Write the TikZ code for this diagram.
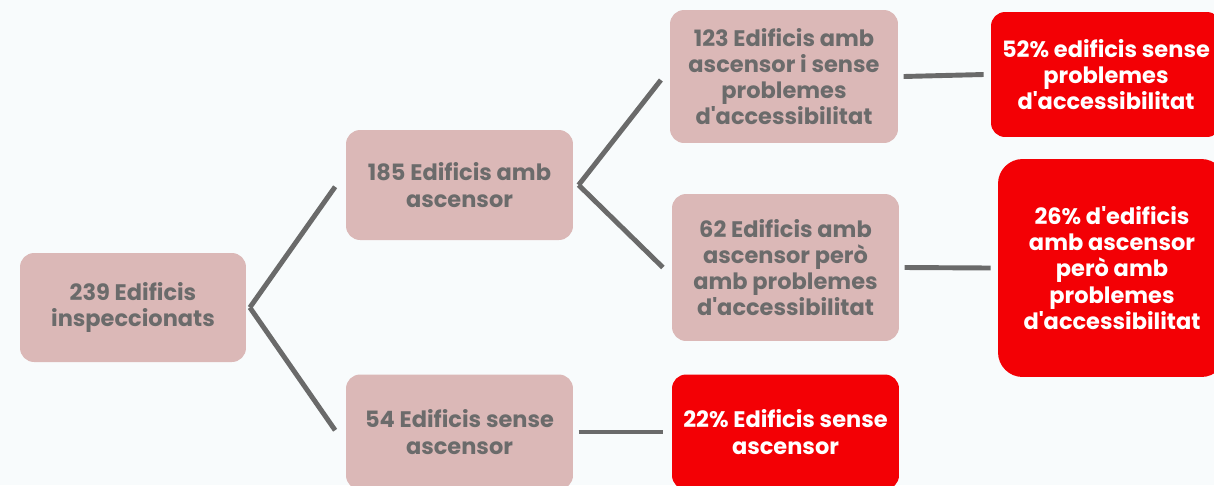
\documentclass[tikz,border=0pt]{standalone}
\usepackage{fontspec}
\setmainfont{Poppins}[Ligatures=TeXOff]
\definecolor{boxpink}{HTML}{DBB8B7}
\definecolor{txtgray}{HTML}{6B6B6B}
\definecolor{hotred}{HTML}{F30005}
\definecolor{linegray}{HTML}{6A6A6A}
\definecolor{bgwhite}{HTML}{F8FBFC}

\tikzset{
  step box/.style={fill=boxpink, rounded corners=8pt, text=txtgray, align=center,
    font=\fontsize{12.8}{14.9}\selectfont\bfseries, inner sep=2pt},
  result box/.style={fill=hotred, rounded corners=8pt, text=white, align=center,
    font=\fontsize{12.8}{14.9}\selectfont\bfseries, inner sep=2pt},
  branch/.style={linegray, line width=2.8pt}
}

\begin{document}
\begin{tikzpicture}[x=0.02cm, y=-0.02cm]
        % Canvas
        \useasboundingbox (0,0) rectangle (1214,485);
        \fill[bgwhite] (0,0) rectangle (1214,485);
        \clip (0,0) rectangle (1214,485);
        % Counts
        \node[step box, minimum width=4.52cm, minimum height=2.18cm] (total) at (133,307.5) {239 Edificis\\inspeccionats};
        \node[step box, minimum width=4.54cm, minimum height=2.2cm] (lift) at (459.5,185) {185 Edificis amb\\ascensor};
        \node[step box, minimum width=4.54cm, minimum height=2.3cm] (nolift) at (459.5,432) {54 Edificis sense\\ascensor};
        \node[step box, minimum width=4.56cm, minimum height=2.66cm] (liftok) at (784,76.5) {123 Edificis amb\\ascensor i sense\\problemes\\d'accessibilitat};
        \node[step box, minimum width=4.54cm, minimum height=2.94cm] (liftbad) at (785.5,267.5) {62 Edificis amb\\ascensor però\\amb problemes\\d'accessibilitat};
        % Percentages
        \node[result box, minimum width=4.54cm, minimum height=2.3cm] (pctnolift) at (785.5,432) {22\% Edificis sense\\ascensor};
        \node[result box, minimum width=4.6cm, minimum height=2.5cm] (pctok) at (1106,74.5) {52\% edificis sense\\problemes\\d'accessibilitat};
        \node[result box, rounded corners=14pt, minimum width=4.56cm, minimum height=4.36cm] (pctbad) at (1112,268) {26\% d'edificis\\amb ascensor\\però amb\\problemes\\d'accessibilitat};
        % Branches
        \draw[branch] ([xshift=2pt]total.east) -- ([xshift=-6pt,yshift=-1pt]lift.west);
        \draw[branch] ([xshift=2pt]total.east) -- ([xshift=-6pt,yshift=1pt]nolift.west);
        \draw[branch] ([xshift=3pt]lift.east) -- ([xshift=-5pt]liftok.west |- 0,80);
        \draw[branch] ([xshift=3pt]lift.east) -- ([xshift=-5pt]liftbad.west);
        \draw[branch] ([xshift=3pt]liftok.east) -- ([xshift=-4pt]pctok.west);
        \draw[branch] ([xshift=3pt]liftbad.east) -- ([xshift=-4pt]pctbad.west);
        \draw[branch] ([xshift=3pt]nolift.east) -- ([xshift=-5pt]pctnolift.west);
      \end{tikzpicture}
\end{document}
